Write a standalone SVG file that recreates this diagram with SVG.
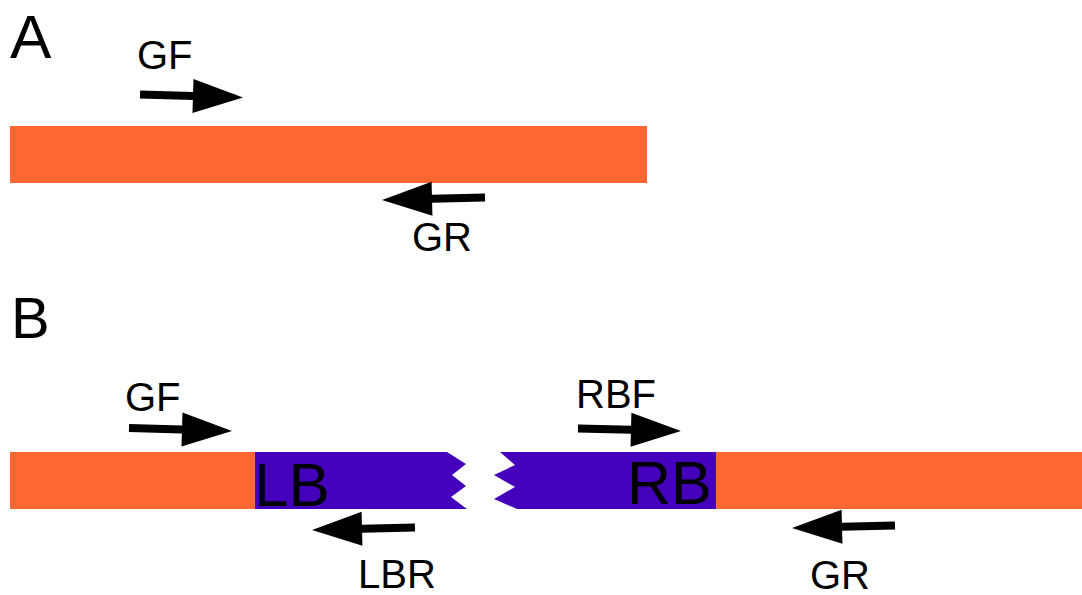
<svg xmlns="http://www.w3.org/2000/svg" width="1082" height="595" viewBox="0 0 1082 595">
<style>
.lbl{font-family:"Liberation Sans",Arial,sans-serif;fill:#000}
.orange{fill:#FF6633}
.purple{fill:#4400BB}
</style>
<defs>
<path id="arr" d="M0,-4 L53,-4 L53,-17 L103,0 L53,17 L53,4 L0,4 Z" fill="#000"/>
</defs>
<rect width="1082" height="595" fill="#fff"/>
<g id="panelA">
<text class="lbl" x="10" y="58" font-size="62">A</text>
<g id="geneA"><rect class="orange" x="10" y="126" width="637" height="57"/></g>
<g id="GF_A"><text class="lbl" x="137" y="69" font-size="40">GF</text></g>
<g id="GR_A"><text class="lbl" x="412" y="251" font-size="40">GR</text></g>
</g>
<g id="panelB">
<text class="lbl" x="11" y="337.5" font-size="58">B</text>
<g id="leftOrange"><rect class="orange" x="10" y="452" width="245" height="57"/></g>
<g id="LB"><path class="purple" d="M255,452 L447,452 L466,464 L452,475 L466,486 L451,497 L467,509 L255,509 Z"/>
<text class="lbl" x="254" y="506" font-size="62">LB</text></g>
<g id="RB"><path class="purple" d="M500,452 L716,452 L716,509 L517,509 L494,499 L515,487 L494,475 L515,465 Z"/>
<text class="lbl" x="627" y="504" font-size="61">RB</text></g>
<g id="rightOrange"><rect class="orange" x="716" y="452" width="366" height="57"/></g>
<g id="GF_B"><text class="lbl" x="125" y="411" font-size="40">GF</text></g>
<g id="RBF"><text class="lbl" x="576" y="408" font-size="40">RBF</text></g>
<g id="LBR"><text class="lbl" x="358" y="588" font-size="40">LBR</text></g>
<g id="GR_B"><text class="lbl" x="810" y="589" font-size="40">GR</text></g>
</g>
<g id="connectors">
<use href="#arr" transform="translate(140,94.5) rotate(1.7)"/>
<use href="#arr" transform="translate(485,197.5) rotate(178.6)"/>
<use href="#arr" transform="translate(129,428) rotate(1.7)"/>
<use href="#arr" transform="translate(578,428.5) rotate(1.4)"/>
<use href="#arr" transform="translate(415,527.5) rotate(178.6)"/>
<use href="#arr" transform="translate(895,525.5) rotate(178.6)"/>
</g>
</svg>
